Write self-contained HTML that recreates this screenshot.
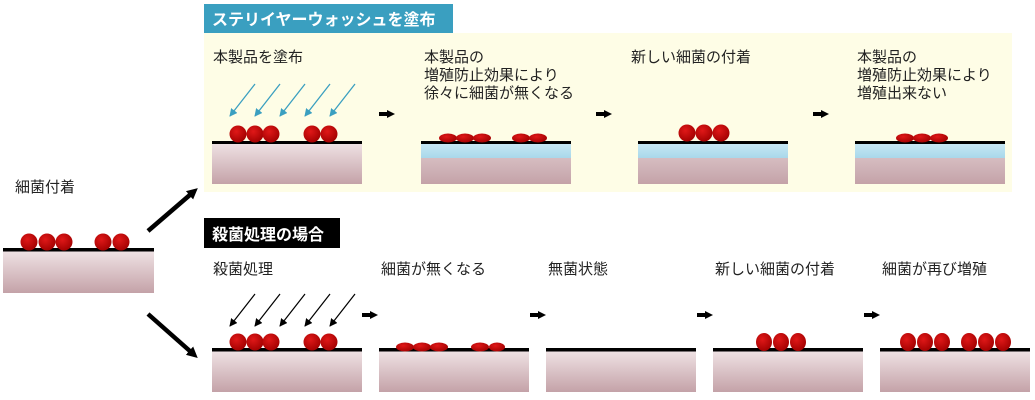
<!DOCTYPE html>
<html><head><meta charset="utf-8"><style>
html,body{margin:0;padding:0;background:#fff;}
svg{display:block;}
text{font-family:"Liberation Sans","Noto Sans CJK JP",sans-serif;font-size:15px;fill:#222;}
.b{font-weight:bold;fill:#fff;font-size:16px;}
</style></head><body>
<svg width="1035" height="400" viewBox="0 0 1035 400" xmlns="http://www.w3.org/2000/svg">
<defs>
<linearGradient id="sub" x1="0" y1="0" x2="0" y2="1"><stop offset="0" stop-color="#efe2e4"/><stop offset="1" stop-color="#c4a2a8"/></linearGradient>
<linearGradient id="sub2" x1="0" y1="0" x2="0" y2="1"><stop offset="0" stop-color="#e0cccf"/><stop offset="1" stop-color="#c4a2a8"/></linearGradient>
<linearGradient id="blu" x1="0" y1="0" x2="0" y2="1"><stop offset="0" stop-color="#c8e8f4"/><stop offset="1" stop-color="#a9d8ea"/></linearGradient>
<radialGradient id="bac" cx="0.4" cy="0.35" r="0.7"><stop offset="0" stop-color="#e01818"/><stop offset="1" stop-color="#a00000"/></radialGradient>
<marker id="ah" markerWidth="8" markerHeight="8" refX="1" refY="4" orient="auto" markerUnits="userSpaceOnUse"><path d="M0,0 L8,4 L0,8 z" fill="#000"/></marker>
<marker id="ad" markerWidth="11" markerHeight="11" refX="2" refY="5.5" orient="auto" markerUnits="userSpaceOnUse"><path d="M0,0 L11,5.5 L0,11 z" fill="#000"/></marker>
<marker id="ab" markerWidth="8" markerHeight="8" refX="7" refY="4" orient="auto" markerUnits="userSpaceOnUse"><path d="M0,0 L8,4 L0,8 z" fill="#3a9fc0"/></marker>
<marker id="ak" markerWidth="8" markerHeight="8" refX="7" refY="4" orient="auto" markerUnits="userSpaceOnUse"><path d="M0,0 L8,4 L0,8 z" fill="#000"/></marker>
</defs>
<rect x="204" y="33" width="808" height="159" fill="#fefde6"/>
<rect x="204" y="4" width="249" height="29" fill="#3a9fc0"/>
<text x="212" y="25" class="b">ステリイヤーウォッシュを塗布</text>
<text x="213" y="62">本製品を塗布</text>
<text x="424" y="62">本製品の</text><text x="424" y="80">増殖防止効果により</text><text x="424" y="98">徐々に細菌が無くなる</text>
<text x="631" y="62">新しい細菌の付着</text>
<text x="857" y="62">本製品の</text><text x="857" y="80">増殖防止効果により</text><text x="857" y="98">増殖出来ない</text>
<rect x="212" y="143" width="150" height="41" fill="url(#sub)"/><rect x="212" y="141" width="150" height="3" fill="#000"/>
<rect x="421" y="143" width="150" height="41" fill="url(#sub2)"/><rect x="421" y="143" width="150" height="15" fill="url(#blu)"/><rect x="421" y="141" width="150" height="3" fill="#000"/>
<rect x="638" y="143" width="150" height="41" fill="url(#sub2)"/><rect x="638" y="143" width="150" height="15" fill="url(#blu)"/><rect x="638" y="141" width="150" height="3" fill="#000"/>
<rect x="855" y="143" width="150" height="41" fill="url(#sub2)"/><rect x="855" y="143" width="150" height="15" fill="url(#blu)"/><rect x="855" y="141" width="150" height="3" fill="#000"/>
<g fill="url(#bac)">
<circle cx="238" cy="134" r="8.5"/><circle cx="255" cy="134" r="8.5"/><circle cx="271" cy="134" r="8.5"/><circle cx="312" cy="134" r="8.5"/><circle cx="329" cy="134" r="8.5"/>
<ellipse cx="448" cy="138" rx="9" ry="4.5"/><ellipse cx="465" cy="138" rx="9" ry="4.5"/><ellipse cx="482" cy="138" rx="9" ry="4.5"/><ellipse cx="521" cy="138" rx="9" ry="4.5"/><ellipse cx="538" cy="138" rx="9" ry="4.5"/>
<circle cx="687" cy="133" r="8.5"/><circle cx="704" cy="133" r="8.5"/><circle cx="721" cy="133" r="8.5"/>
<ellipse cx="905" cy="138" rx="9" ry="4.5"/><ellipse cx="922" cy="138" rx="9" ry="4.5"/><ellipse cx="939" cy="138" rx="9" ry="4.5"/>
</g>
<g stroke="#3a9fc0" stroke-width="1.3" marker-end="url(#ab)">
<line x1="255" y1="84" x2="230" y2="116"/><line x1="280" y1="84" x2="255" y2="116"/><line x1="305" y1="84" x2="280" y2="116"/><line x1="330" y1="84" x2="305" y2="116"/><line x1="355" y1="84" x2="330" y2="116"/>
</g>
<g stroke="#000" stroke-width="4" marker-end="url(#ah)">
<line x1="379" y1="114" x2="388" y2="114"/><line x1="596" y1="114" x2="605" y2="114"/><line x1="813" y1="114" x2="822" y2="114"/>
</g>
<text x="15" y="192">細菌付着</text>
<rect x="3" y="251" width="151" height="42" fill="url(#sub)"/><rect x="3" y="248" width="151" height="3.5" fill="#000"/>
<g fill="url(#bac)"><circle cx="29" cy="242" r="8.5"/><circle cx="47" cy="242" r="8.5"/><circle cx="64" cy="242" r="8.5"/><circle cx="103" cy="242" r="8.5"/><circle cx="121" cy="242" r="8.5"/></g>
<g stroke="#000" stroke-width="4.5" marker-end="url(#ad)" >
<line x1="148" y1="231" x2="191" y2="194"/><line x1="148" y1="314" x2="191" y2="352"/>
</g>
<rect x="204" y="218" width="136" height="30" fill="#000"/>
<text x="212" y="240" class="b">殺菌処理の場合</text>
<text x="213" y="274">殺菌処理</text>
<text x="381" y="274">細菌が無くなる</text>
<text x="548" y="274">無菌状態</text>
<text x="715" y="274">新しい細菌の付着</text>
<text x="882" y="274">細菌が再び増殖</text>
<g fill="url(#sub)">
<rect x="212" y="351" width="150" height="41"/><rect x="379" y="351" width="150" height="41"/><rect x="546" y="351" width="150" height="41"/><rect x="713" y="351" width="150" height="41"/><rect x="880" y="351" width="150" height="41"/>
</g>
<g fill="#000">
<rect x="212" y="348" width="150" height="3.5"/><rect x="379" y="348" width="150" height="3.5"/><rect x="546" y="348" width="150" height="3.5"/><rect x="713" y="348" width="150" height="3.5"/><rect x="880" y="348" width="150" height="3.5"/>
</g>
<g fill="url(#bac)">
<circle cx="238" cy="342" r="8.5"/><circle cx="255" cy="342" r="8.5"/><circle cx="271" cy="342" r="8.5"/><circle cx="312" cy="342" r="8.5"/><circle cx="329" cy="342" r="8.5"/>
<ellipse cx="405" cy="347" rx="9" ry="4.5"/><ellipse cx="422" cy="347" rx="9" ry="4.5"/><ellipse cx="439" cy="347" rx="9" ry="4.5"/><ellipse cx="480" cy="347" rx="9" ry="4.5"/><ellipse cx="497" cy="347" rx="8" ry="4.5"/>
<ellipse cx="764" cy="342" rx="8" ry="9"/><ellipse cx="781" cy="342" rx="8" ry="9"/><ellipse cx="798" cy="342" rx="8" ry="9"/>
<ellipse cx="908" cy="342" rx="8" ry="9"/><ellipse cx="925" cy="342" rx="8" ry="9"/><ellipse cx="942" cy="342" rx="8" ry="9"/><ellipse cx="969" cy="342" rx="8" ry="9"/><ellipse cx="986" cy="342" rx="8" ry="9"/><ellipse cx="1003" cy="342" rx="8" ry="9"/>
</g>
<g stroke="#000" stroke-width="1.2" marker-end="url(#ak)">
<line x1="255" y1="294" x2="230" y2="326"/><line x1="280" y1="294" x2="255" y2="326"/><line x1="305" y1="294" x2="280" y2="326"/><line x1="330" y1="294" x2="305" y2="326"/><line x1="355" y1="294" x2="330" y2="326"/>
</g>
<g stroke="#000" stroke-width="4" marker-end="url(#ah)">
<line x1="362" y1="315" x2="371" y2="315"/><line x1="530" y1="315" x2="539" y2="315"/><line x1="697" y1="315" x2="706" y2="315"/><line x1="864" y1="315" x2="873" y2="315"/>
</g>
</svg>
</body></html>
